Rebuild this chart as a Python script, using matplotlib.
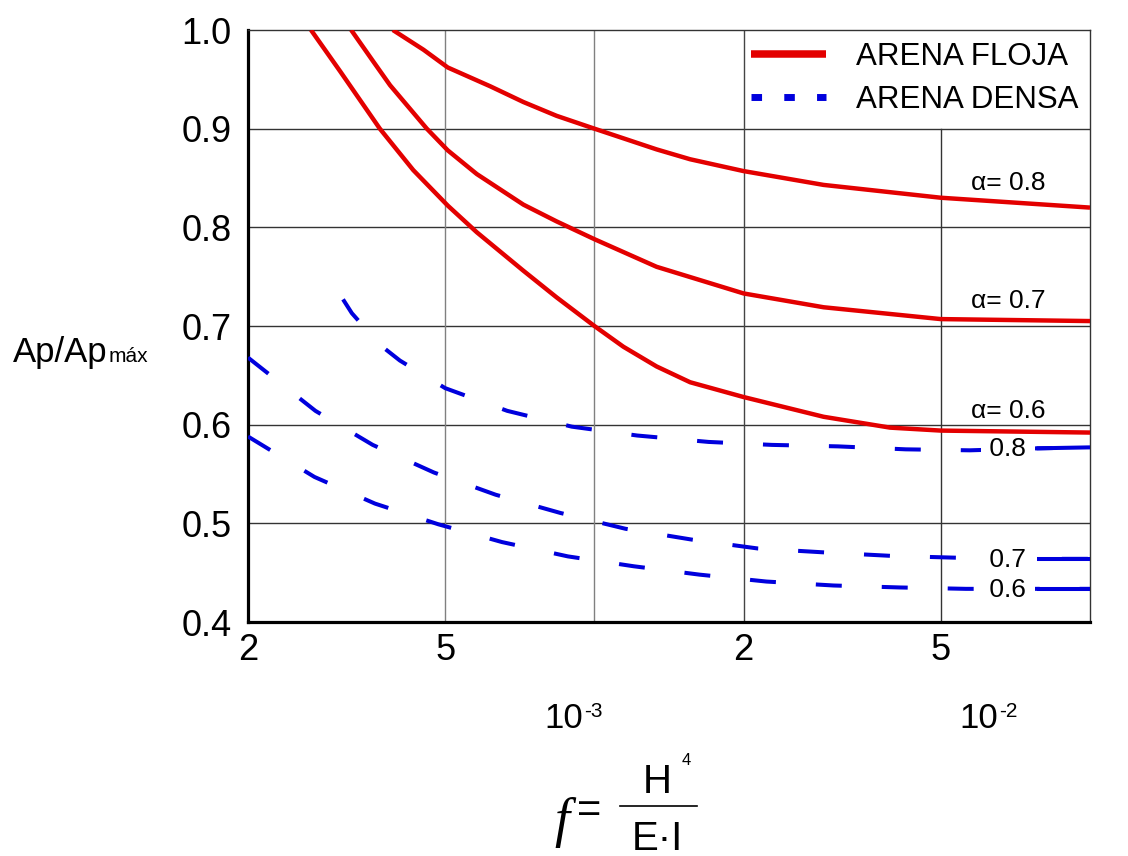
import matplotlib
matplotlib.use('Agg')
import matplotlib.pyplot as plt
import numpy as np
from matplotlib.lines import Line2D
from matplotlib.ticker import NullLocator

plt.rcParams['font.family'] = ['Liberation Sans', 'DejaVu Sans']
plt.rcParams['lines.scale_dashes'] = False

# valores (f = H^4 / E.I, eje log)
f_floja_08 = [3.92e-4, 4.52e-4, 5.06e-4, 6.16e-4, 7.19e-4, 8.39e-4, 1e-3, 1.335e-3, 1.56e-3,
              2e-3, 2.9e-3, 5e-3, 1e-2]
ap_floja_08 = [1.0, 0.980, 0.962, 0.943, 0.927, 0.913, 0.900, 0.879, 0.869,
               0.857, 0.843, 0.830, 0.820]

f_floja_07 = [3.23e-4, 3.58e-4, 3.87e-4, 4.59e-4, 5.06e-4, 5.79e-4, 7.19e-4, 8.39e-4, 1e-3,
              1.335e-3, 2e-3, 2.9e-3, 5e-3, 1e-2]
ap_floja_07 = [1.0, 0.968, 0.944, 0.900, 0.878, 0.854, 0.823, 0.806, 0.788,
               0.760, 0.733, 0.719, 0.707, 0.705]

f_floja_06 = [2.68e-4, 3.07e-4, 3.69e-4, 4.31e-4, 5.06e-4, 5.79e-4, 7.19e-4, 8.39e-4, 1e-3,
              1.144e-3, 1.335e-3, 1.56e-3, 2e-3, 2.9e-3, 3.95e-3, 5e-3, 1e-2]
ap_floja_06 = [1.0, 0.958, 0.900, 0.858, 0.822, 0.795, 0.756, 0.729, 0.700,
               0.679, 0.659, 0.643, 0.628, 0.608, 0.597, 0.594, 0.592]

f_densa_08 = [3.11e-4, 3.24e-4, 3.69e-4, 4.05e-4, 5e-4, 6.67e-4, 9.0e-4, 1.22e-3, 1.70e-3,
              2.28e-3, 3.10e-3, 4.25e-3, 5.72e-3, 7.8e-3, 1e-2]
ap_densa_08 = [0.727, 0.713, 0.681, 0.665, 0.637, 0.614, 0.598, 0.589, 0.5825,
               0.5795, 0.578, 0.575, 0.574, 0.576, 0.577]

f_densa_07 = [2e-4, 2.736e-4, 3.57e-4, 4.745e-4, 6.32e-4, 8.54e-4, 1.155e-3, 1.573e-3, 2.138e-3,
              2.92e-3, 3.977e-3, 5.52e-3, 7.8e-3, 1e-2]
ap_densa_07 = [0.668, 0.614, 0.5795, 0.5515, 0.529, 0.5105, 0.4945, 0.4835, 0.4745,
               0.4705, 0.467, 0.465, 0.464, 0.464]

f_densa_06 = [2e-4, 2.724e-4, 3.608e-4, 4.845e-4, 6.51e-4, 8.84e-4, 1.2e-3, 1.63e-3, 2.224e-3,
              3.037e-3, 4.136e-3, 5.62e-3, 7.8e-3, 1e-2]
ap_densa_06 = [0.588, 0.547, 0.520, 0.499, 0.481, 0.4665, 0.4565, 0.448, 0.441,
               0.437, 0.435, 0.4336, 0.4336, 0.4336]

etiquetas_floja = ['α= 0.8', 'α= 0.7', 'α= 0.6']
pos_floja = [0.845, 0.725, 0.614]
etiquetas_densa = ['0.8', '0.7', '0.6']
pos_densa = [0.5755, 0.4633, 0.4327]

x_ticks = [2e-4, 5e-4, 2e-3, 5e-3]
x_ticklabels = ['2', '5', '2', '5']
y_ticks = [0.4, 0.5, 0.6, 0.7, 0.8, 0.9, 1.0]

rojo = '#e30000'
azul = '#0000dd'

fig = plt.figure(figsize=(11.28, 8.56), dpi=100)
ax = fig.add_axes([248/1128, 1-622/856, 842/1128, 592/856])
ax.set_xscale('log')
ax.set_xlim(2e-4, 1e-2)
ax.set_ylim(0.4, 1.0)

# rejilla
for yv in [0.5, 0.6, 0.7, 0.8, 0.9]:
    ax.axhline(yv, color='#333333', lw=1.0, zorder=1)
ax.axvline(5e-4, color='#808080', lw=1.0, zorder=1)
ax.axvline(1e-3, color='#808080', lw=1.0, zorder=1)
ax.axvline(2e-3, color='#444444', lw=1.0, zorder=1)
ax.axvline(5e-3, ymax=(0.9-0.4)/0.6, color='#333333', lw=1.0, zorder=1)

# curvas arena floja
for fx, ap in [(f_floja_08, ap_floja_08), (f_floja_07, ap_floja_07), (f_floja_06, ap_floja_06)]:
    ax.plot(fx, ap, color=rojo, lw=3.2, zorder=6, solid_capstyle='butt', solid_joinstyle='round')

# curvas arena densa (discontinua, tramo final continuo tras la etiqueta)
for fx, ap in [(f_densa_08, ap_densa_08), (f_densa_07, ap_densa_07), (f_densa_06, ap_densa_06)]:
    fx = np.array(fx)
    ap = np.array(ap)
    ax.plot(fx, ap, color=azul, lw=2.9, ls=(0, (18.7, 28.8)), zorder=3)
    m = fx >= 7.8e-3
    ax.plot(fx[m], ap[m], color=azul, lw=2.9, zorder=3, solid_capstyle='butt')

for t, yv in zip(etiquetas_floja, pos_floja):
    ax.text(6.83e-3, yv, t, fontsize=19, ha='center', va='center', zorder=5)
for t, yv in zip(etiquetas_densa, pos_densa):
    ax.text(6.83e-3, yv, ' ' + t + ' ', fontsize=19, ha='center', va='center', zorder=5,
            bbox=dict(facecolor='white', edgecolor='none', pad=1))

# ejes
ax.set_xticks(x_ticks)
ax.set_xticklabels(x_ticklabels)
ax.xaxis.set_minor_locator(NullLocator())
ax.set_yticks(y_ticks)
ax.set_yticklabels(['%.1f' % v for v in y_ticks])
ax.tick_params(axis='both', length=0, labelsize=26)
ax.tick_params(axis='x', pad=8)
ax.tick_params(axis='y', pad=12)
for s in ['left', 'bottom']:
    ax.spines[s].set_linewidth(2.3)
    ax.spines[s].set_color('black')
for s in ['top', 'right']:
    ax.spines[s].set_linewidth(1.0)
    ax.spines[s].set_color('#333333')

# potencias de diez (segunda fila)
for xr, exp in [(0.398, '-3'), (0.8907, '-2')]:
    ax.text(xr, -0.179, '10', transform=ax.transAxes, fontsize=25, ha='right', va='baseline')
    ax.text(xr + 0.0015, -0.1605, exp, transform=ax.transAxes, fontsize=15,
            ha='left', va='baseline')

# leyenda
h1 = Line2D([], [], color=rojo, lw=5.4, solid_capstyle='butt')
h2 = Line2D([], [], color=azul, lw=5.0, ls=(0, (7.6, 16.0)))
ax.legend([h1, h2], ['ARENA FLOJA', 'ARENA DENSA'], loc='center',
          bbox_to_anchor=(0.792, 0.918), frameon=False, fontsize=22.5,
          handlelength=2.4, handletextpad=0.96, labelspacing=0.42,
          borderpad=0, borderaxespad=0)

# titulo eje y
fig.text(13/1128, (856-362)/856, 'Ap/Ap', fontsize=25, ha='left', va='baseline')
fig.text(109/1128, (856-362)/856, 'máx', fontsize=15, ha='left', va='baseline')

# titulo eje x: f = H^4 / E.I
fig.text(562/1128, (856-822)/856, 'f', fontsize=39, ha='center', va='center',
         family='Liberation Serif', style='italic')
fig.text(589/1128, (856-811)/856, '=', fontsize=30, ha='center', va='center')
fig.text(657/1128, (856-793)/856, 'H', fontsize=29, ha='center', va='baseline')
fig.text(682/1128, (856-765)/856, '4', fontsize=12, ha='left', va='baseline')
fig.add_artist(Line2D([620/1128, 697/1128], [(856-806)/856, (856-806)/856],
                      color='black', lw=1.2))
fig.text(657/1128, (856-850)/856, 'E·I', fontsize=29, ha='center', va='baseline')

fig.savefig('out.png', dpi=100)
